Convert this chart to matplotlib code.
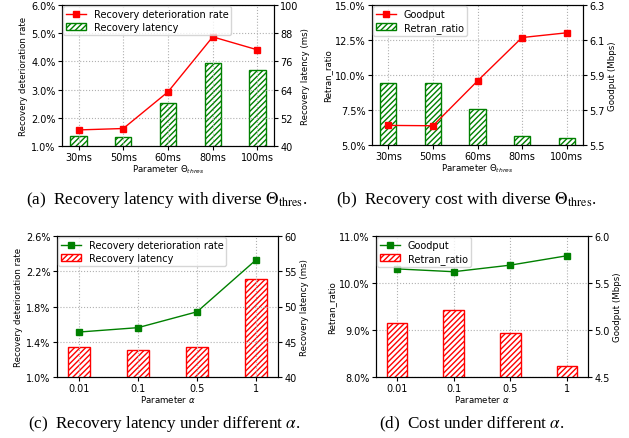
import matplotlib
matplotlib.use('Agg')
import matplotlib.pyplot as plt
from matplotlib.ticker import FormatStrFormatter

# values
thres_labels = ['30ms', '50ms', '60ms', '80ms', '100ms']
thres_deterioration = [1.57, 1.62, 2.92, 4.87, 4.41]   # %
thres_latency = [44.3, 43.7, 58.5, 75.3, 72.4]         # ms
thres_retran = [9.45, 9.45, 7.54, 5.66, 5.52]          # %
thres_goodput = [5.612, 5.61, 5.866, 6.114, 6.141]     # Mbps

alpha_labels = ['0.01', '0.1', '0.5', '1']
alpha_deterioration = [1.51, 1.56, 1.74, 2.33]         # %
alpha_latency = [44.25, 43.9, 44.25, 53.9]             # ms
alpha_retran = [9.15, 9.43, 8.93, 8.23]                # %
alpha_goodput = [5.65, 5.62, 5.69, 5.79]               # Mbps

W, H = 629, 439
fig = plt.figure(figsize=(W / 100, H / 100), dpi=100)

TICK = 7
LABEL = 6.2
LEG = 7


def px_rect(x0, y0, x1, y1):
    return [x0 / W, (H - y1) / H, (x1 - x0) / W, (y1 - y0) / H]


def panel(rect, labels, line_vals, bar_vals, line_left, line_color, bar_color,
          line_name, bar_name, left_label, right_label, xlabel,
          left_ticks, right_ticks, left_fmt, right_fmt):
    ax = fig.add_axes(rect)
    ax2 = ax.twinx()
    x = list(range(len(labels)))
    if line_left:
        axl, axb = ax, ax2
    else:
        axl, axb = ax2, ax
    bars = axb.bar(x, bar_vals, width=0.36, facecolor='white',
                   edgecolor=bar_color, hatch='//////', linewidth=1.0,
                   label=bar_name)
    line, = axl.plot(x, line_vals, '-s', color=line_color, lw=1.0, ms=4,
                     label=line_name)
    # keep the line above the bars
    axl.set_zorder(axb.get_zorder() + 1)
    axl.patch.set_visible(False)
    axb.patch.set_visible(True)

    ax.set_xlim(-0.37, len(labels) - 1 + 0.37)
    ax.set_xticks(x)
    ax.set_xticklabels(labels)
    ax.set_ylim(left_ticks[0], left_ticks[-1])
    ax.set_yticks(left_ticks)
    ax2.set_ylim(right_ticks[0], right_ticks[-1])
    ax2.set_yticks(right_ticks)
    ax.yaxis.set_major_formatter(FormatStrFormatter(left_fmt))
    ax2.yaxis.set_major_formatter(FormatStrFormatter(right_fmt))
    for a in (ax, ax2):
        a.tick_params(labelsize=TICK, length=3, pad=1.5)
    ax.grid(True, linestyle=':', color='#b0b0b0', linewidth=0.8)
    ax.set_axisbelow(True)
    ax.set_ylabel(left_label, fontsize=LABEL, labelpad=2)
    ax2.set_ylabel(right_label, fontsize=LABEL, labelpad=2)
    ax.set_xlabel(xlabel, fontsize=LABEL, labelpad=0)
    axl.legend([line, bars], [line_name, bar_name], loc='upper left',
               fontsize=LEG, borderaxespad=0.15, labelspacing=0.25,
               borderpad=0.3)


panel(px_rect(62, 6, 274, 147), thres_labels, thres_deterioration, thres_latency,
      True, 'red', 'green', 'Recovery deterioration rate', 'Recovery latency',
      'Recovery deterioration rate', 'Recovery latency (ms)',
      r'Parameter $\Theta_{thres}$',
      [1, 2, 3, 4, 5, 6], [40, 52, 64, 76, 88, 100], '%.1f%%', '%d')

panel(px_rect(372, 6, 583, 146), thres_labels, thres_goodput, thres_retran,
      False, 'red', 'green', 'Goodput', 'Retran_ratio',
      'Retran_ratio', 'Goodput (Mbps)', r'Parameter $\Theta_{thres}$',
      [5, 7.5, 10, 12.5, 15], [5.5, 5.7, 5.9, 6.1, 6.3], '%.1f%%', '%.1f')

panel(px_rect(57, 237, 278, 378), alpha_labels, alpha_deterioration, alpha_latency,
      True, 'green', 'red', 'Recovery deterioration rate', 'Recovery latency',
      'Recovery deterioration rate', 'Recovery latency (ms)',
      r'Parameter $\alpha$',
      [1.0, 1.4, 1.8, 2.2, 2.6], [40, 45, 50, 55, 60], '%.1f%%', '%d')

panel(px_rect(376, 237, 588, 378), alpha_labels, alpha_goodput, alpha_retran,
      False, 'green', 'red', 'Goodput', 'Retran_ratio',
      'Retran_ratio', 'Goodput (Mbps)', r'Parameter $\alpha$',
      [8, 9, 10, 11], [4.5, 5.0, 5.5, 6.0], '%.1f%%', '%.1f')

cap = dict(family='Liberation Serif', math_fontfamily='stix', size=12.3,
           ha='center', va='center')
fig.text(167 / W, 1 - 200 / H,
         r'(a)  Recovery latency with diverse $\Theta_{\mathrm{thres}}$.', **cap)
fig.text(466 / W, 1 - 200 / H,
         r'(b)  Recovery cost with diverse $\Theta_{\mathrm{thres}}$.', **cap)
fig.text(164 / W, 1 - 424 / H,
         r'(c)  Recovery latency under different $\alpha$.', **cap)
fig.text(472 / W, 1 - 424 / H,
         r'(d)  Cost under different $\alpha$.', **cap)

fig.savefig('out.png', dpi=100)
